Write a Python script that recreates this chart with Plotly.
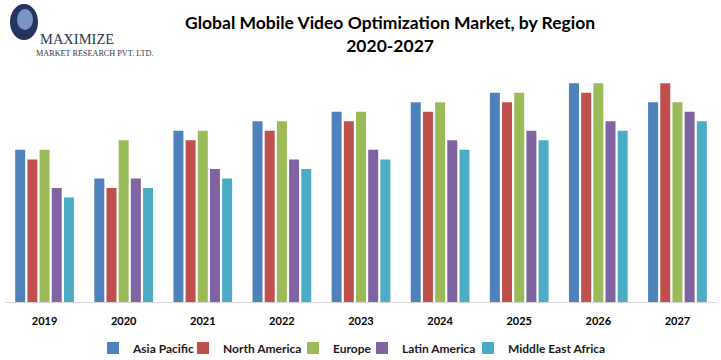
import plotly.graph_objects as go

years = ["2019", "2020", "2021", "2022", "2023", "2024", "2025", "2026", "2027"]
asia_pacific = [16, 13, 18, 19, 20, 21, 22, 23, 21]
north_america = [15, 12, 17, 18, 19, 20, 21, 22, 23]
europe = [16, 17, 18, 19, 20, 21, 22, 23, 21]
latin_america = [12, 13, 14, 15, 16, 17, 18, 19, 20]
middle_east_africa = [11, 12, 13, 14, 15, 16, 17, 18, 19]

series_names = ["Asia Pacific", "North America", "Europe", "Latin America", "Middle East Africa"]
series_values = [asia_pacific, north_america, europe, latin_america, middle_east_africa]
series_colors = ["#4F81BD", "#C0504D", "#9BBB59", "#8064A2", "#4BACC6"]

FONT = "Lato"
W, H = 721, 360
L, R = 5, 4
PLOT_TOP, PLOT_BOTTOM = 70, 302
PW = W - L - R

def px_x(x):
    return (x - L) / PW

def px_y(y):
    return (H - y) / H

# legend text start positions (pixels) per entry
legend_text_x = [132, 222, 332, 401, 507]

fig = go.Figure()
legend_layouts = {}
for i, (name, vals, col) in enumerate(zip(series_names, series_values, series_colors)):
    lname = "legend" if i == 0 else f"legend{i + 1}"
    fig.add_trace(go.Bar(x=years, y=vals, name=name, legend=lname,
                         marker=dict(color=col, line=dict(width=0))))
    legend_layouts[lname] = dict(
        orientation="h", x=px_x(legend_text_x[i] - 39), xanchor="left",
        y=px_y(348), yanchor="middle", bgcolor="rgba(0,0,0,0)",
        font=dict(family=FONT, size=12, color="#1a1a1a", weight="bold"),
        itemclick=False, itemdoubleclick=False)

fig.update_layout(
    width=W, height=H,
    margin=dict(l=L, r=R, t=0, b=0, autoexpand=False),
    paper_bgcolor="white", plot_bgcolor="white",
    barmode="group", bargap=0.23, bargroupgap=0.18,
    showlegend=True,
    font=dict(family=FONT),
    **legend_layouts,
)
fig.update_xaxes(showgrid=False, showline=True, linecolor="#d9d9d9", linewidth=1,
                 ticks="", tickfont=dict(family=FONT, size=11, color="#000000", weight="bold"),
                 ticklabelstandoff=9, automargin=False)
fig.update_yaxes(range=[0, 24.4], domain=[px_y(PLOT_BOTTOM), px_y(PLOT_TOP)],
                 showgrid=False, showticklabels=False, zeroline=False,
                 showline=False, automargin=False)

fig.add_annotation(xref="paper", yref="paper", x=px_x(390), y=px_y(10),
                   xanchor="center", yanchor="top", showarrow=False,
                   text="Global Mobile Video Optimization Market, by Region<br>2020-2027",
                   font=dict(family=FONT, size=17.5, color="#000000", weight="bold"))

# Logo
fig.add_shape(type="circle", xref="paper", yref="paper",
              x0=px_x(10), x1=px_x(38), y0=px_y(40), y1=px_y(4),
              fillcolor="#24345e", line=dict(width=0), layer="above")
fig.add_shape(type="circle", xref="paper", yref="paper",
              x0=px_x(17), x1=px_x(33), y0=px_y(30), y1=px_y(9),
              fillcolor="#7a95c4", line=dict(width=0), layer="above")
fig.add_annotation(xref="paper", yref="paper", x=px_x(38), y=px_y(39),
                   xanchor="left", yanchor="middle", showarrow=False, text="MAXIMIZE",
                   font=dict(family="Liberation Serif", size=14.5, color="#2b3650"))
fig.add_annotation(xref="paper", yref="paper", x=px_x(34), y=px_y(53),
                   xanchor="left", yanchor="middle", showarrow=False,
                   text="MARKET RESEARCH PVT. LTD.",
                   font=dict(family="Liberation Serif", size=8.2, color="#2b3650"))

fig.write_html("out.html", config={"displayModeBar": False},
               post_script="document.body.style.margin='0';")
